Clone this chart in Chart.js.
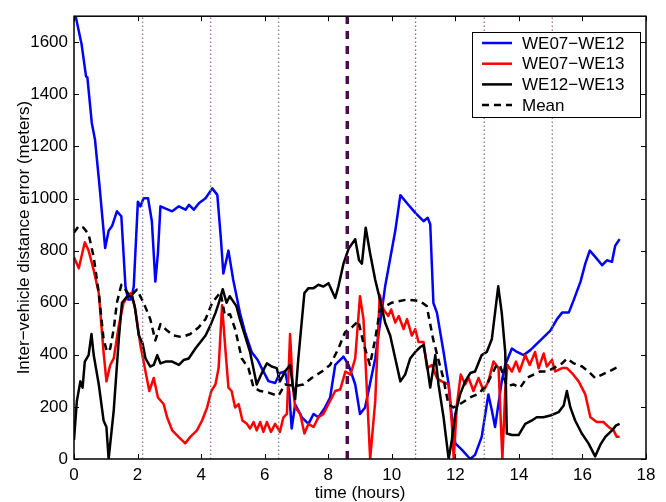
<!DOCTYPE html>
<html><head><meta charset="utf-8">
<script src="https://cdn.jsdelivr.net/npm/chart.js@4"></script>
<style>html,body{margin:0;padding:0;background:#fff;}#wrap{width:666px;height:502px;}</style>
</head><body><div id="wrap"><canvas id="c" width="666" height="502"></canvas></div>
<script>
// ---- data ----
const seriesLabels = ['WE07\u2212WE12', 'WE07\u2212WE13', 'WE12\u2212WE13', 'Mean'];

const blueT = [0,0.24,0.38,0.42,0.56,0.66,0.80,0.98,1.09,1.2,1.35,1.49,1.62,1.70,1.80,1.88,2.01,2.09,2.19,2.33,2.45,2.56,2.64,2.72,2.85,3.09,3.3,3.51,3.62,3.77,3.93,4.14,4.35,4.51,4.62,4.70,4.86,5.01,5.22,5.38,5.59,5.78,5.91,6.12,6.33,6.48,6.64,6.77,6.85,6.96,7.17,7.38,7.54,7.69,7.90,8.06,8.22,8.48,8.64,8.85,9.0,9.16,9.48,9.79,10.11,10.27,10.48,10.74,11.0,11.13,11.21,11.31,11.42,11.63,11.79,11.89,12.0,12.21,12.47,12.62,12.83,13.04,13.15,13.25,13.46,13.57,13.78,13.94,14.15,14.36,14.57,14.78,14.99,15.2,15.36,15.57,15.73,15.94,16.09,16.23,16.41,16.62,16.77,16.93,17.03,17.17];
const blueV = [1730,1591,1468,1466,1290,1227,1052,810,876,895,951,932,662,612,612,662,988,970,1001,1001,913,681,788,970,963,951,970,957,976,957,982,1001,1039,1014,850,712,800,688,562,487,411,380,348,299,292,330,336,261,117,210,160,135,173,160,198,236,361,393,361,286,173,198,386,662,876,1013,982,945,913,926,901,599,562,411,286,160,60,35,0,16,85,248,186,123,298,361,424,411,399,418,443,468,493,537,562,562,612,681,750,800,775,744,763,757,819,844];

const redT = [0,0.15,0.34,0.46,0.62,0.78,0.93,1.02,1.14,1.25,1.41,1.56,1.72,1.80,1.93,2.09,2.25,2.37,2.51,2.64,2.82,2.93,3.09,3.29,3.50,3.66,3.87,4.03,4.19,4.32,4.45,4.55,4.66,4.77,4.86,4.96,5.07,5.18,5.30,5.44,5.54,5.65,5.75,5.86,5.96,6.07,6.20,6.33,6.48,6.59,6.70,6.80,6.88,6.96,7.12,7.25,7.38,7.54,7.69,7.85,8.01,8.22,8.38,8.54,8.70,8.85,9.0,9.11,9.32,9.48,9.62,9.74,9.89,9.98,10.11,10.22,10.37,10.48,10.63,10.74,10.84,11.0,11.11,11.26,11.42,11.57,11.79,11.89,11.95,12.05,12.17,12.31,12.42,12.57,12.73,12.89,13.04,13.2,13.36,13.48,13.57,13.64,13.78,13.91,14.02,14.2,14.34,14.51,14.62,14.78,14.88,15.04,15.14,15.36,15.51,15.67,15.88,16.09,16.25,16.45,16.66,16.82,16.98,17.08,17.17];
const redV = [775,732,832,800,725,637,411,298,361,386,512,600,631,637,574,437,336,261,311,236,211,160,110,85,60,85,110,148,198,261,286,348,590,411,274,261,198,211,148,135,117,142,110,142,104,142,104,135,104,160,173,480,286,198,173,98,135,123,160,173,211,261,267,336,324,386,625,537,0,223,630,574,549,574,524,549,499,537,474,499,449,449,348,361,311,298,286,135,0,211,324,286,311,261,311,261,298,374,349,0,261,361,336,374,336,399,361,411,348,405,355,380,336,349,349,330,298,248,160,142,142,123,110,85,85];

const blackT = [0,0.09,0.2,0.27,0.34,0.46,0.55,0.62,0.78,0.93,1.02,1.09,1.25,1.41,1.51,1.67,1.83,1.91,2.04,2.16,2.25,2.40,2.51,2.62,2.72,2.88,3.09,3.30,3.45,3.61,3.82,3.98,4.14,4.29,4.45,4.56,4.68,4.80,4.90,5.11,5.22,5.38,5.54,5.75,5.91,6.07,6.22,6.38,6.48,6.64,6.80,6.88,6.96,7.06,7.25,7.38,7.54,7.69,7.85,8.01,8.22,8.32,8.48,8.64,8.85,8.97,9.06,9.18,9.32,9.48,9.63,9.79,9.95,10.11,10.27,10.42,10.58,10.74,10.9,11.0,11.11,11.21,11.37,11.47,11.63,11.79,11.89,12.0,12.15,12.31,12.47,12.62,12.83,12.99,13.15,13.25,13.35,13.46,13.57,13.62,13.78,13.99,14.2,14.41,14.56,14.77,14.99,15.25,15.41,15.51,15.62,15.77,15.98,16.19,16.40,16.56,16.72,16.93,17.06,17.17];
const blackV = [73,223,298,274,374,399,480,399,286,148,123,0,186,461,600,624,624,587,474,443,386,355,361,399,367,374,374,361,380,386,424,449,474,512,560,600,652,600,625,587,537,474,411,286,330,367,355,349,298,336,361,286,230,386,637,656,656,669,662,675,618,662,750,807,844,763,750,888,788,687,612,524,474,386,298,324,386,411,430,437,361,274,399,286,160,0,73,173,248,298,330,336,399,411,461,562,663,562,411,98,92,92,135,148,160,160,167,180,205,261,198,148,98,60,10,54,85,110,129,135];

const meanT = [0,0.15,0.30,0.46,0.62,0.78,0.93,1.04,1.14,1.25,1.35,1.49,1.62,1.77,1.98,2.19,2.40,2.56,2.72,2.93,3.14,3.40,3.66,3.92,4.14,4.35,4.61,4.75,4.91,5.07,5.28,5.49,5.65,5.86,6.12,6.43,6.64,6.96,7.22,7.48,7.80,8.06,8.32,8.53,8.74,8.95,9.1,9.31,9.48,9.63,10.0,10.47,10.89,11.1,11.3,11.47,11.62,11.78,11.94,12.15,12.46,12.73,12.99,13.3,13.40,13.57,13.62,13.83,14.04,14.25,14.46,14.67,14.88,15.09,15.36,15.51,15.73,15.99,16.19,16.40,16.62,16.83,17.04,17.17];
const meanV = [869,895,888,863,775,637,461,411,424,499,600,669,650,624,650,600,537,455,518,493,474,468,480,505,537,600,640,550,556,499,386,349,274,261,255,242,286,280,286,311,336,361,424,487,505,530,449,361,461,575,600,612,606,587,461,380,311,211,198,211,236,250,286,361,361,298,280,286,274,311,324,336,336,349,367,386,367,355,336,311,324,336,349,355];

const dottedLines = [2.16, 4.30, 6.44, 10.75, 12.91, 15.05];
const eventLines = [8.6];

const xTicks = [0,2,4,6,8,10,12,14,16,18];
const yTicks = [0,200,400,600,800,1000,1200,1400,1600];
const xRange = [0, 18];
const yRange = [0, 1700];

// ---- build ----
const FONT = "'Liberation Sans', Arial, Helvetica, sans-serif";
const pts = (t, v) => t.map((x, i) => ({x: x, y: v[i]}));
const vline = x => [{x: x, y: yRange[0]}, {x: x, y: yRange[1]}];

const seriesStyle = [
  {color: '#0000ff', dash: []},
  {color: '#ff0000', dash: []},
  {color: '#000000', dash: []},
  {color: '#000000', dash: [7, 5]}
];
const seriesData = [pts(blueT, blueV), pts(redT, redV), pts(blackT, blackV), pts(meanT, meanV)];

const datasets = [];
seriesData.forEach((d, i) => {
  datasets.push({
    label: seriesLabels[i], data: d, borderColor: seriesStyle[i].color,
    borderDash: seriesStyle[i].dash, borderWidth: 2.5, pointRadius: 0, tension: 0,
    borderJoinStyle: 'round', fill: false, order: 4 - i, isSeries: true
  });
});
dottedLines.forEach(x => datasets.push({
  label: '', data: vline(x), borderColor: '#8e6c8e', borderWidth: 1.2, borderDash: [1.5, 2.5],
  pointRadius: 0, order: 0, isSeries: false
}));
eventLines.forEach(x => datasets.push({
  label: '', data: vline(x), borderColor: '#4a0c4a', borderWidth: 3.5, borderDash: [8, 7],
  pointRadius: 0, order: 0, isSeries: false
}));

const boxPlugin = {
  id: 'boxTicks',
  afterDraw(chart) {
    const {ctx, chartArea: a, scales} = chart;
    ctx.save();
    ctx.strokeStyle = '#000'; ctx.lineWidth = 1.5;
    ctx.strokeRect(a.left, a.top, a.right - a.left, a.bottom - a.top);
    ctx.lineWidth = 1;
    ctx.beginPath();
    const L = 5;
    scales.x.ticks.forEach(t => {
      const px = Math.round(scales.x.getPixelForValue(t.value)) + 0.5;
      ctx.moveTo(px, a.bottom); ctx.lineTo(px, a.bottom - L);
      ctx.moveTo(px, a.top); ctx.lineTo(px, a.top + L);
    });
    scales.y.ticks.forEach(t => {
      const py = Math.round(scales.y.getPixelForValue(t.value)) + 0.5;
      ctx.moveTo(a.left, py); ctx.lineTo(a.left + L, py);
      ctx.moveTo(a.right, py); ctx.lineTo(a.right - L, py);
    });
    ctx.stroke();

    // legend
    const items = chart.data.datasets.filter(d => d.isSeries);
    const bx = 472, by = 32, bw = 168, bh = 85, rowH = 20.7;
    ctx.fillStyle = '#fff';
    ctx.fillRect(bx, by, bw, bh);
    ctx.strokeStyle = '#000'; ctx.lineWidth = 1;
    ctx.strokeRect(bx + 0.5, by + 0.5, bw, bh);
    ctx.font = '17px ' + FONT;
    ctx.textBaseline = 'middle'; ctx.textAlign = 'left';
    items.forEach((d, i) => {
      const y = by + 11 + i * rowH;
      ctx.strokeStyle = d.borderColor; ctx.lineWidth = 2.5;
      ctx.setLineDash(d.borderDash || []);
      ctx.beginPath(); ctx.moveTo(482, y); ctx.lineTo(512, y); ctx.stroke();
      ctx.setLineDash([]);
      ctx.fillStyle = '#000';
      ctx.fillText(d.label, 522, y + 1);
    });
    ctx.restore();
  }
};

new Chart(document.getElementById('c'), {
  type: 'line',
  data: {datasets: datasets},
  plugins: [boxPlugin],
  options: {
    responsive: false, animation: false, devicePixelRatio: 1,
    layout: {padding: {left: 0, right: 20, top: 8, bottom: 0}},
    plugins: {legend: {display: false}, tooltip: {enabled: false}},
    scales: {
      x: {
        type: 'linear', min: xRange[0], max: xRange[1],
        afterBuildTicks: s => { s.ticks = xTicks.map(v => ({value: v})); },
        afterFit: s => { s.height = 43; },
        grid: {display: false, drawTicks: false}, border: {display: false},
        ticks: {font: {family: FONT, size: 17}, color: '#000', padding: 6, maxRotation: 0, autoSkip: false, callback: v => String(v)},
        title: {display: true, text: 'time (hours)', color: '#000', font: {family: FONT, size: 17, lineHeight: 1}, padding: {top: 1, bottom: 0}}
      },
      y: {
        type: 'linear', min: yRange[0], max: yRange[1],
        afterBuildTicks: s => { s.ticks = yTicks.map(v => ({value: v})); },
        afterFit: s => { s.width = 74; },
        grid: {display: false, drawTicks: false}, border: {display: false},
        ticks: {font: {family: FONT, size: 17}, color: '#000', padding: 6, autoSkip: false, callback: v => String(v)},
        title: {display: true, text: 'Inter\u2212vehicle distance error (meters)', color: '#000', font: {family: FONT, size: 17, lineHeight: 1}, padding: {top: 16, bottom: 0}}
      }
    }
  }
});
</script>
</body></html>
